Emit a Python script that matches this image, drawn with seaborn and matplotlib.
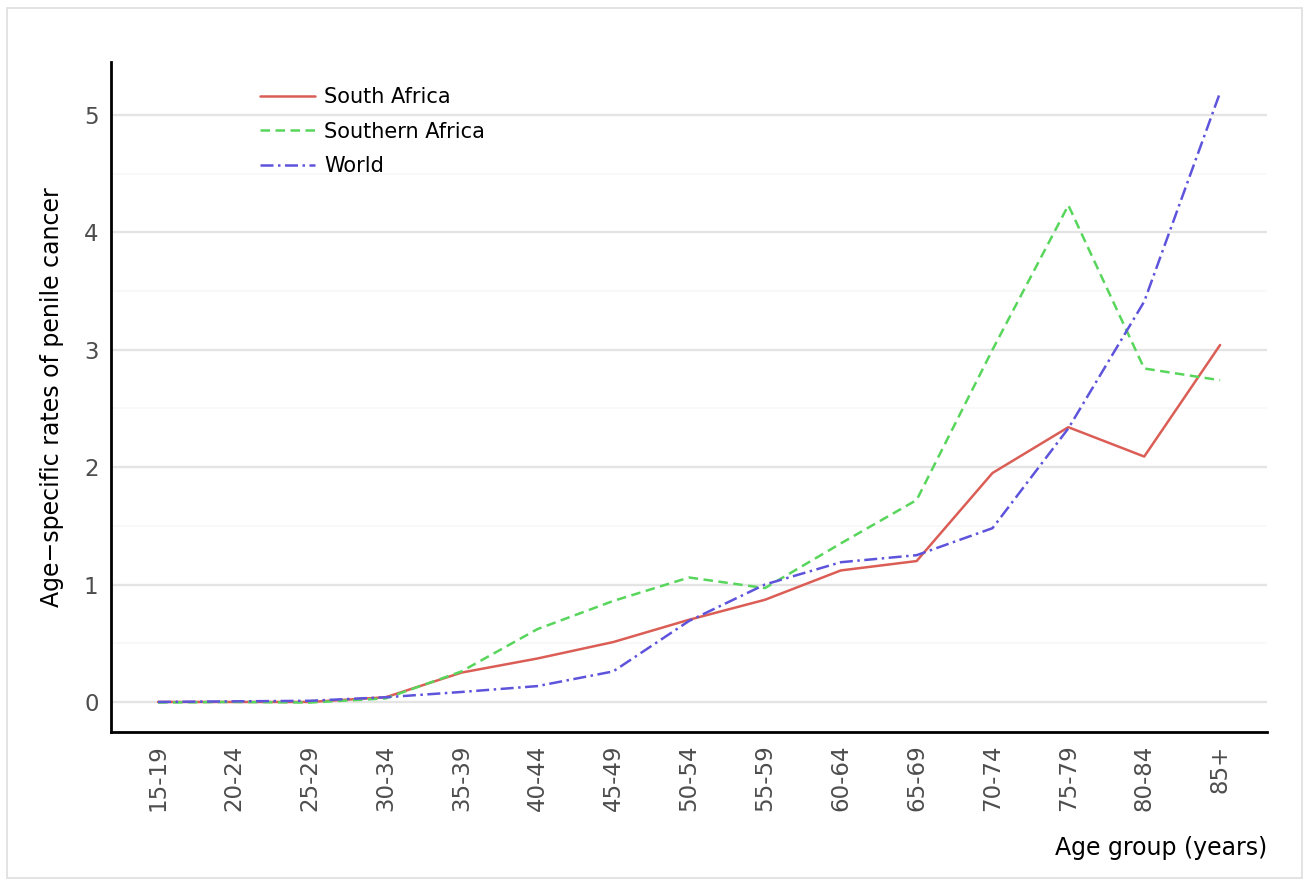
import numpy as np
import pandas as pd
import matplotlib
matplotlib.use("Agg")
import matplotlib.pyplot as plt
import seaborn as sns
from matplotlib.patches import Rectangle

# Age groups and age-specific rates
age_groups = ["15-19", "20-24", "25-29", "30-34", "35-39", "40-44", "45-49",
              "50-54", "55-59", "60-64", "65-69", "70-74", "75-79", "80-84", "85+"]
south_africa = [0.0, 0.0, 0.0, 0.04, 0.25, 0.37, 0.51, 0.70, 0.87, 1.12, 1.20,
                1.95, 2.34, 2.09, 3.04]
southern_africa = [-0.005, 0.0, -0.005, 0.03, 0.26, 0.62, 0.86, 1.06, 0.97, 1.35, 1.72,
                   3.00, 4.23, 2.84, 2.74]
world = [0.0, 0.005, 0.01, 0.04, 0.085, 0.135, 0.26, 0.69, 1.00, 1.19, 1.25,
         1.48, 2.33, 3.41, 5.19]
regions = ["South Africa", "Southern Africa", "World"]

df = pd.DataFrame({
    "age": age_groups * 3,
    "rate": south_africa + southern_africa + world,
    "region": np.repeat(regions, len(age_groups)),
})

palette = {"South Africa": "#DB5E56", "Southern Africa": "#58D65C", "World": "#5E54DC"}
dashes = {"South Africa": "", "Southern Africa": (3.8, 2.2), "World": (5.2, 1.8, 1, 1.8)}

sns.set_style("white")
plt.rcParams['font.family'] = ['DejaVu Sans']
plt.rcParams['text.color'] = 'black'
plt.rcParams['axes.labelcolor'] = 'black'

fig = plt.figure(figsize=(13.09, 8.86), dpi=100)
ax = fig.add_axes([0.0848, 0.1738, 0.8832, 0.7562])

# light border round the whole figure
fig.patches.append(Rectangle((0.005, 0.009), 0.99, 0.982, transform=fig.transFigure,
                             fill=False, edgecolor="#dedede", linewidth=1.2))

sns.lineplot(data=df, x="age", y="rate", hue="region", style="region",
             palette=palette, dashes=dashes, sort=False, linewidth=1.8, ax=ax)

ax.set_xlim(-0.62, 14.62)
ax.set_ylim(-0.256, 5.45)
ax.set_yticks([0, 1, 2, 3, 4, 5])
ax.set_yticks([0.5, 1.5, 2.5, 3.5, 4.5], minor=True)
ax.grid(axis="y", which="major", color="#e4e4e4", linewidth=1.7)
ax.grid(axis="y", which="minor", color="#f6f6f6", linewidth=1.1)
ax.grid(axis="x", visible=False)
ax.set_axisbelow(True)

for side in ["top", "right"]:
    ax.spines[side].set_visible(False)
for side in ["left", "bottom"]:
    ax.spines[side].set_color("black")
    ax.spines[side].set_linewidth(2.0)

ax.tick_params(axis="both", which="major", length=5, width=2.0, color="black",
               labelsize=16.5, labelcolor="#4d4d4d", pad=4)
ax.tick_params(axis="y", which="minor", length=0)
plt.setp(ax.get_xticklabels(), rotation=90)

ax.set_xlabel("Age group (years)", fontsize=17, loc="right", labelpad=18)
ax.set_ylabel("Age\u2212specific rates of penile cancer", fontsize=17, labelpad=14)

leg = ax.legend(title=None, frameon=False, loc="upper left",
                bbox_to_anchor=(0.1125, 0.99), fontsize=15, handlelength=2.65,
                labelspacing=0.68, handletextpad=0.45)

fig.savefig("out.png", dpi=100)
